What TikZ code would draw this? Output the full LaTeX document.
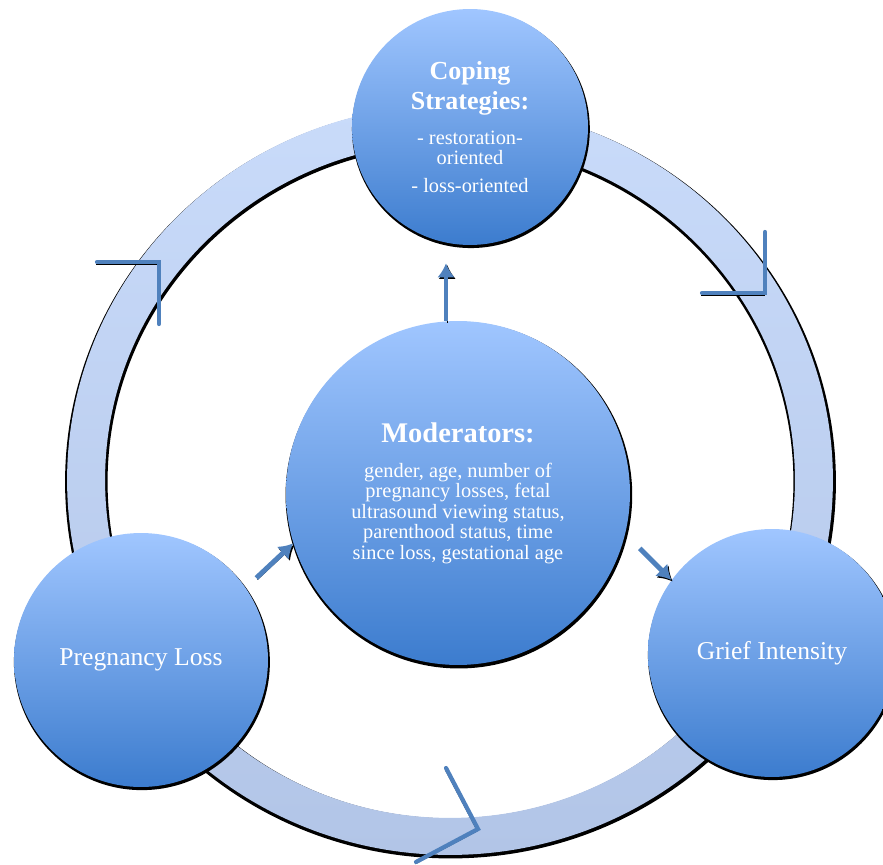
\documentclass[tikz,border=0pt]{standalone}
\usepackage{fontspec}
\setmainfont{Liberation Serif}
\usetikzlibrary{arrows.meta,shadows}

\definecolor{bubtop}{RGB}{160,198,255}
\definecolor{bubbot}{RGB}{60,124,206}
\definecolor{ringtop}{RGB}{201,219,250}
\definecolor{ringbot}{RGB}{178,197,231}
\definecolor{markblue}{RGB}{79,129,189}

\newcommand{\copehead}{\fontsize{14.8}{14.2}\selectfont\bfseries}
\newcommand{\modhead}{\fontsize{16.2}{16}\selectfont\bfseries}

\begin{document}
\begin{tikzpicture}[x=0.02cm, y=-0.02cm,
  bubble/.style={circle, inner sep=0pt, align=center, text=white, top color=bubtop, bottom color=bubbot,
    drop shadow={shadow xshift=0.5pt, shadow yshift=-1.2pt, shadow scale=1.008, opacity=1, fill=black}},
  flow/.style={line width=2.8pt, markblue, -{Latex[length=8pt,width=10pt]},
    preaction={draw=black, transform canvas={shift={(0.7pt,-0.9pt)}}}},
  turn/.style={line width=2.4pt, markblue, line cap=round,
    preaction={draw=black, transform canvas={shift={(-0.4pt,-1.1pt)}}}}]
\useasboundingbox (0, 0) rectangle (883, 865);
%Ring
\fill[black, even odd rule] (450.5, 482) ellipse [x radius=7.71cm, y radius=7.53cm] (450.5, 482) ellipse [x radius=6.86cm, y radius=6.73cm];
\shade[top color=ringtop, bottom color=ringbot, even odd rule] (450, 480) ellipse [x radius=7.66cm, y radius=7.5cm] (450, 480) ellipse [x radius=6.9cm, y radius=6.76cm];
\draw[turn] (97, 262) -- (159, 262) -- (159, 324);
\draw[turn] (765, 232) -- (765, 293) -- (702, 293);
\draw[turn] (446, 768) -- (478, 829) -- (416, 862);
%Circles
\node[bubble, minimum size=4.72cm, font=\fontsize{11.6}{11.4}\selectfont] (cope) at (470, 127)
  {{\copehead Coping}\\[2.8pt] {\copehead Strategies:}\\[8.6pt] - restoration-\\ oriented\\[4.6pt] - loss-oriented};
\node[bubble, minimum size=6.88cm, font=\fontsize{11.6}{11.6}\selectfont] (mod) at (458, 493)
  {{\modhead Moderators:}\\[8.4pt] gender, age, number of\\ pregnancy losses, fetal\\ ultrasound viewing status,\\ parenthood status, time\\ since loss, gestational age};
\node[bubble, minimum size=5.08cm, font=\fontsize{14.6}{17}\selectfont] (preg) at (141, 660) {Pregnancy Loss};
\node[bubble, minimum size=4.96cm, font=\fontsize{14.6}{17}\selectfont] (grief) at (772, 653) {Grief Intensity};
%Arrows
\draw[flow, shorten >=0.36cm] (mod.94) -- (mod.94 |- cope.south);
\draw[flow] ([shift={(11, -9)}]preg.35) -- (mod.197);
\draw[flow] ([shift={(17, 5)}]mod.-17) -- (grief.144);
\end{tikzpicture}
\end{document}
